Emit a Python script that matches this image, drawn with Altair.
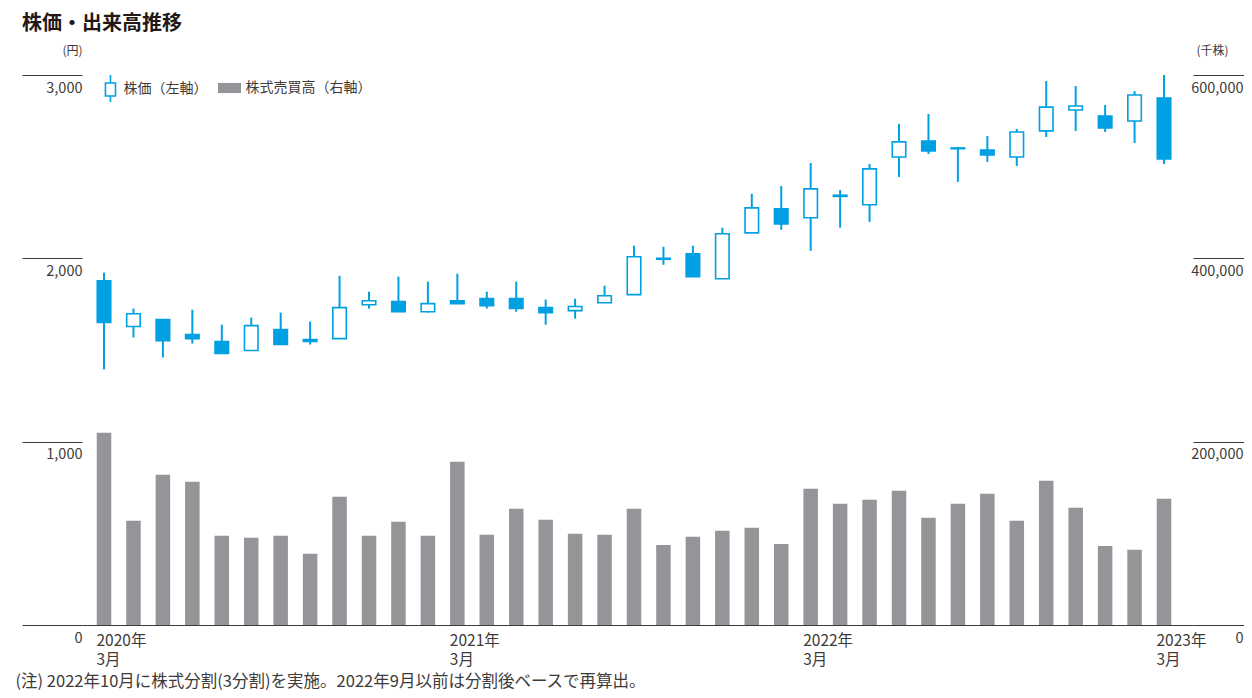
import altair as alt
import pandas as pd

# ---- data ----
months = list(pd.period_range("2020-03", "2023-03", freq="M").strftime("%Y-%m"))

price_open = [1878, 1628, 1666, 1584, 1546, 1497, 1611, 1557, 1562, 1747, 1764, 1709, 1769,
              1780, 1780, 1731, 1715, 1758, 1802, 1995, 2025, 1889, 2139, 2270, 2221, 2338,
              2292, 2553, 2640, 2602, 2591, 2553, 2695, 2809, 2776, 2749, 2874]
price_close = [1650, 1698, 1551, 1562, 1481, 1633, 1530, 1546, 1731, 1769, 1709, 1753, 1753,
               1742, 1726, 1704, 1737, 1796, 2009, 2000, 1900, 2134, 2275, 2188, 2379, 2344,
               2488, 2635, 2586, 2598, 2564, 2689, 2825, 2831, 2711, 2891, 2542]
price_high = [1922, 1726, 1666, 1720, 1638, 1677, 1704, 1655, 1905, 1818, 1900, 1873, 1916,
              1818, 1873, 1775, 1780, 1851, 2069, 2063, 2069, 2167, 2352, 2395, 2520, 2373,
              2515, 2733, 2787, 2608, 2667, 2706, 2967, 2940, 2836, 2912, 3000]
price_low = [1394, 1568, 1459, 1535, 1481, 1497, 1530, 1530, 1562, 1726, 1709, 1704, 1753,
             1726, 1709, 1638, 1671, 1758, 1802, 1965, 1900, 1889, 2139, 2156, 2041, 2167,
             2199, 2444, 2569, 2417, 2526, 2504, 2662, 2695, 2689, 2629, 2515]
volume = [209800, 113700, 164000, 156300, 97300, 95100, 97300, 77600, 139900, 97300, 112600,
          97300, 178100, 98400, 126800, 114800, 99500, 98400, 126800, 87400, 96200, 102700,
          106000, 88500, 148600, 132200, 136600, 146400, 116900, 132200, 143200, 113700,
          157400, 127900, 86300, 82000, 137700]

price_ticks = [0, 1000, 2000, 3000]
volume_ticks = [0, 200000, 400000, 600000]

S_PRICE = "株価（左軸）"
S_VOL = "株式売買高（右軸）"
TITLE = "株価・出来高推移"
NOTE = "(注) 2022年10月に株式分割(3分割)を実施。2022年9月以前は分割後ベースで再算出。"

df = pd.DataFrame({
    "month": months, "open": price_open, "close": price_close,
    "high": price_high, "low": price_low, "volume": volume,
})

# ---- style ----
FONT = "Noto Sans CJK JP"
BLUE = "#00a0e3"
GRAY = "#939598"
TEXT = "#3e3a39"
AXIS = "#3e3a39"

CANDLE = "M0.14,-1L0.14,-0.43M0.14,0.5L0.14,0.93M-0.22,-0.43L0.5,-0.43L0.5,0.5L-0.22,0.5Z"
RECT = "M-0.82,-0.36L0.82,-0.36L0.82,0.36L-0.82,0.36Z"

legend_common = dict(
    orient="none", legendY=-1, direction="horizontal", title=None, symbolSize=784,
    labelFont=FONT, labelFontSize=14, labelColor=TEXT, padding=0, symbolOpacity=1,
)
price_legend = alt.Legend(
    legendX=11.5, symbolType=CANDLE, symbolFillColor="#ffffff", symbolStrokeColor=BLUE,
    symbolStrokeWidth=1.6, labelOffset=0, **legend_common,
)
vol_legend = alt.Legend(
    legendX=133.5, symbolType=RECT, symbolFillColor=GRAY, symbolStrokeWidth=0,
    labelOffset=2, **legend_common,
)

x_enc = alt.X(
    "month:O",
    scale=alt.Scale(paddingInner=0, paddingOuter=0.366, align=0.338),
    axis=alt.Axis(
        orient="bottom", ticks=False, tickSize=0, domain=True, domainColor=AXIS,
        domainWidth=1, grid=False, labelAngle=0, labelAlign="left", labelBaseline="top",
        labelOffset=-7.5, labelPadding=8, labelLineHeight=19, labelOverlap=False,
        labelBound=False, labelFont=FONT, labelFontSize=15.5, labelColor=TEXT,
        labelExpr="substring(datum.value, 5, 7) === '03' ? [substring(datum.value, 0, 4) + '年', '3月'] : ''",
        title=NOTE, titleX=-67, titleY=56, titleAlign="left", titleBaseline="middle",
        titleFont=FONT, titleFontSize=16.5, titleFontWeight="normal", titleColor=TEXT,
    ),
)

price_scale = alt.Scale(domain=[0, 3000], nice=False, zero=True)
vol_scale = alt.Scale(domain=[0, 600000], nice=False, zero=True)

left_axis = alt.Axis(
    orient="left", values=price_ticks, format=",.0f", tickSize=60, tickColor=AXIS,
    tickWidth=1, domain=False, grid=False, labelAlign="right", labelBaseline="middle",
    labelPadding=-60, labelOffset=13, labelFont=FONT, labelFontSize=14.5, labelColor=TEXT,
    title="(円)", titleAngle=0, titleAlign="right", titleBaseline="middle", titleX=0,
    titleY=-25, titleFont=FONT, titleFontSize=12, titleFontWeight="normal", titleColor=TEXT,
)
right_axis = alt.Axis(
    orient="right", values=volume_ticks, format=",.0f", tickSize=51, tickColor=AXIS,
    tickWidth=1, domain=False, grid=False, labelAlign="right", labelBaseline="middle",
    labelPadding=-1, labelOffset=13, labelFont=FONT, labelFontSize=14.5, labelColor=TEXT,
    title="(千株)", titleAngle=0, titleAlign="left", titleBaseline="middle", titleX=3,
    titleY=-25, titleFont=FONT, titleFontSize=12, titleFontWeight="normal", titleColor=TEXT,
)

base = alt.Chart(df)

vol_layer = base.transform_calculate(series_v=f"'{S_VOL}'").mark_bar(width=14.5).encode(
    x=x_enc,
    y=alt.Y("volume:Q", scale=vol_scale, axis=right_axis),
    fill=alt.Fill("series_v:N", scale=alt.Scale(domain=[S_VOL], range=[GRAY]),
                  legend=vol_legend),
)

wick = base.transform_calculate(series_p=f"'{S_PRICE}'").mark_rule(strokeWidth=2).encode(
    x=x_enc,
    y=alt.Y("low:Q", scale=price_scale, axis=left_axis),
    y2="high:Q",
    stroke=alt.Stroke("series_p:N", scale=alt.Scale(domain=[S_PRICE], range=[BLUE]),
                      legend=price_legend),
)

body = base.mark_bar(width=13.5, stroke=BLUE, strokeWidth=1.6).encode(
    x=x_enc,
    y=alt.Y("open:Q", scale=price_scale, axis=left_axis),
    y2="close:Q",
    fill=alt.condition("datum.close >= datum.open", alt.value("#ffffff"), alt.value(BLUE)),
)

price_layer = alt.layer(wick, body)

chart = alt.layer(vol_layer, price_layer).resolve_scale(y="independent").properties(
    width=1111,
    height=550,
    autosize=alt.AutoSizeParams(type="none"),
    padding={"left": 74, "top": 67, "right": 51, "bottom": 65},
    background="#ffffff",
    title=alt.TitleParams(
        text=TITLE, anchor="start", frame="group", dx=-60, dy=10, baseline="bottom",
        font=FONT, fontSize=20, fontWeight="bold", color="#231815", offset=0,
    ),
).configure_view(stroke=None)

chart.save("out.html", embed_options={"renderer": "svg", "actions": False})
